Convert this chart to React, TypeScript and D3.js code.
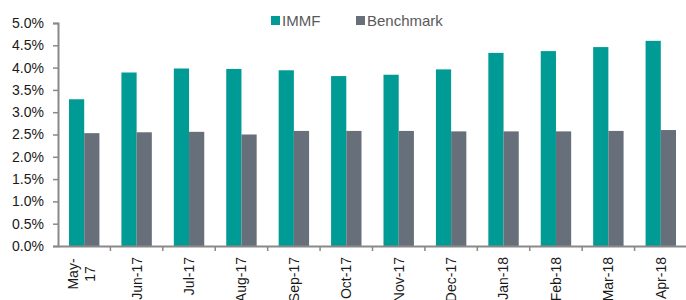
import * as d3 from "d3";
import { useEffect, useRef } from "react";

const months = ["May-17", "Jun-17", "Jul-17", "Aug-17", "Sep-17", "Oct-17", "Nov-17", "Dec-17", "Jan-18", "Feb-18", "Mar-18", "Apr-18"];
const immf = [3.29, 3.89, 3.98, 3.97, 3.94, 3.81, 3.84, 3.96, 4.33, 4.37, 4.46, 4.6];
const benchmark = [2.53, 2.55, 2.56, 2.5, 2.58, 2.58, 2.58, 2.57, 2.57, 2.57, 2.58, 2.6];
const seriesNames = ["IMMF", "Benchmark"];
const yTicks = [0, 0.5, 1, 1.5, 2, 2.5, 3, 3.5, 4, 4.5, 5];

const colors = ["#009B95", "#67707A"];

function App() {
    const ref = useRef(null);
    const width = 686;
    const height = 300;

    useEffect(() => {
        const svg = d3.select(ref.current);
        svg.selectAll("*").remove();

        const x = d3.scaleBand().domain(months).range([58, 687]).paddingInner(0).paddingOuter(0);
        const y = d3.scaleLinear().domain([0, 5]).range([246, 23]);
        const inner = d3.scaleBand().domain(seriesNames).range([11, x.bandwidth() - 11]);

        const font = "'Liberation Sans', Arial, sans-serif";

        // bars
        const series = [immf, benchmark];
        series.forEach((vals, si) => {
            svg.append("g")
                .selectAll("rect")
                .data(vals)
                .enter()
                .append("rect")
                .attr("x", (d, i) => x(months[i]) + inner(seriesNames[si]))
                .attr("y", d => y(d))
                .attr("width", inner.bandwidth())
                .attr("height", d => y(0) - y(d))
                .attr("fill", colors[si]);
        });

        // y axis
        const yAxis = svg.append("g")
            .attr("transform", "translate(58,0)")
            .call(d3.axisLeft(y).tickValues(yTicks).tickSize(5).tickPadding(9).tickFormat(d => d3.format(".1f")(d) + "%"));
        yAxis.select(".domain").attr("stroke", "#898989").attr("stroke-width", 2);
        yAxis.selectAll(".tick line").attr("stroke", "#898989").attr("stroke-width", 1.5);
        yAxis.selectAll("text").attr("font-family", font).attr("font-size", 14).attr("fill", "#1a1a1a");

        // x axis
        const xAxis = svg.append("g")
            .attr("transform", "translate(0,246)")
            .call(d3.axisBottom(x).tickSize(0).tickFormat(() => ""));
        xAxis.select(".domain").attr("stroke", "#898989").attr("stroke-width", 2);
        xAxis.selectAll(".tick").remove();

        // category boundary ticks
        svg.append("g")
            .selectAll("line")
            .data(months.slice(1))
            .enter()
            .append("line")
            .attr("x1", d => x(d))
            .attr("x2", d => x(d))
            .attr("y1", 246)
            .attr("y2", 251)
            .attr("stroke", "#898989")
            .attr("stroke-width", 1.5);

        // rotated labels
        const labels = svg.append("g")
            .selectAll("text")
            .data(months)
            .enter()
            .append("text")
            .attr("font-family", font)
            .attr("font-size", 14)
            .attr("fill", "#1a1a1a");
        labels.each(function (d, i) {
            const t = d3.select(this);
            const cx = x(d) + x.bandwidth() / 2;
            if (i === 0) {
                // first label wraps onto two lines
                t.attr("transform", `translate(${cx},274) rotate(-90)`).attr("text-anchor", "middle");
                t.append("tspan").attr("x", 0).attr("dy", "-0.45em").text("May-");
                t.append("tspan").attr("x", 0).attr("dy", "1.2em").text("17");
            } else {
                t.attr("transform", `translate(${cx},257) rotate(-90)`)
                    .attr("text-anchor", "end")
                    .attr("dy", "0.35em")
                    .text(d);
            }
        });

        // legend
        const legendX = [271, 356];
        const legend = svg.append("g")
            .selectAll("g")
            .data(seriesNames)
            .enter()
            .append("g")
            .attr("transform", (d, i) => `translate(${legendX[i]},16)`);
        legend.append("rect")
            .attr("width", 9)
            .attr("height", 9)
            .attr("fill", (d, i) => colors[i]);
        legend.append("text")
            .attr("x", 11)
            .attr("y", 9.5)
            .attr("font-family", font)
            .attr("font-size", 15)
            .attr("fill", "#595959")
            .text(d => d);
    }, []);

    return (
        <div style={{ position: "absolute", left: 0, top: 0 }}>
            <svg ref={ref} width={width} height={height} style={{ display: "block", background: "#fff" }}></svg>
        </div>
    );
}

export default App;
